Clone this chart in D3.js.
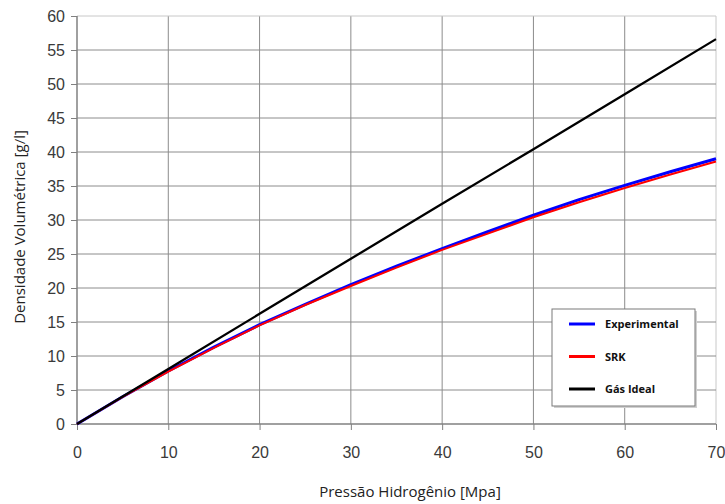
<!DOCTYPE html>
<html>
<head>
<meta charset="utf-8">
<script src="https://cdn.jsdelivr.net/npm/d3@7"></script>
<style>
  body { margin: 0; background: #fff; }
  svg { display: block; }
</style>
</head>
<body>
<div id="chart"></div>
<script>
// pressure (MPa) and density (g/l)
const pressure = [0, 5, 10, 15, 20, 25, 30, 35, 40, 45, 50, 55, 60, 65, 70];
const experimental = [0, 4.0, 7.8, 11.3, 14.6, 17.6, 20.5, 23.2, 25.8, 28.3, 30.7, 33.0, 35.1, 37.1, 39.0];
const srk = [0, 4.0, 7.7, 11.2, 14.5, 17.5, 20.3, 23.0, 25.6, 28.0, 30.4, 32.6, 34.7, 36.7, 38.6];
const idealP = [0, 10, 20, 30, 40, 50, 60, 70];
const ideal = [0, 8.1, 16.2, 24.3, 32.4, 40.4, 48.5, 56.6];

const xTicks = [0, 10, 20, 30, 40, 50, 60, 70];
const yTicks = [0, 5, 10, 15, 20, 25, 30, 35, 40, 45, 50, 55, 60];

const series = [
  {name: "Experimental", color: "#0000ff", width: 3, xs: pressure, ys: experimental},
  {name: "SRK", color: "#ff0000", width: 2, xs: pressure, ys: srk},
  {name: "Gás Ideal", color: "#000000", width: 2.3, xs: idealP, ys: ideal}
];

const W = 725, H = 504;
const margin = {top: 16, right: 9, bottom: 80, left: 77};

const svg = d3.select("#chart").append("svg")
  .attr("width", W).attr("height", H);

const x = d3.scaleLinear().domain([0, 70]).range([margin.left, W - margin.right]);
const y = d3.scaleLinear().domain([0, 60]).range([H - margin.bottom, margin.top]);

// grid
svg.append("g").selectAll("line.v")
  .data(xTicks.slice(1))
  .enter().append("line")
  .attr("x1", d => x(d)).attr("x2", d => x(d))
  .attr("y1", y(0)).attr("y2", y(60))
  .attr("stroke", d => d === 70 ? "#c8c8c8" : "#8c8c8c").attr("stroke-width", 1);

svg.append("g").selectAll("line.h")
  .data(yTicks.slice(1))
  .enter().append("line")
  .attr("x1", x(0)).attr("x2", x(70))
  .attr("y1", d => y(d)).attr("y2", d => y(d))
  .attr("stroke", d => d === 60 ? "#c8c8c8" : "#8c8c8c").attr("stroke-width", 1);

// axes
const xAxis = svg.append("g")
  .attr("transform", "translate(0," + y(0) + ")")
  .call(d3.axisBottom(x).tickValues(xTicks).tickSize(6).tickPadding(17).tickFormat(d3.format("d")));
const yAxis = svg.append("g")
  .attr("transform", "translate(" + x(0) + ",0)")
  .call(d3.axisLeft(y).tickValues(yTicks).tickSize(6).tickPadding(6).tickFormat(d3.format("d")));

[xAxis, yAxis].forEach(a => {
  a.select(".domain").attr("stroke", "#808080").attr("stroke-width", 1.5);
  a.selectAll(".tick line").attr("stroke", "#808080");
  a.selectAll(".tick text")
    .attr("fill", "#3a3a3a")
    .style("font-family", "Liberation Sans, Arial, sans-serif")
    .style("font-size", "16px");
});
xAxis.select(".domain").attr("d", "M" + x(0) + ",0H" + x(70));
yAxis.select(".domain").attr("d", "M0," + y(0) + "V" + y(60));

// lines
const line = d3.line().x(d => x(d[0])).y(d => y(d[1]));
svg.append("g").selectAll("path")
  .data(series)
  .enter().append("path")
  .attr("fill", "none")
  .attr("stroke", d => d.color)
  .attr("stroke-width", d => d.width)
  .attr("stroke-linejoin", "round")
  .attr("d", d => line(d.xs.map((v, i) => [v, d.ys[i]])));

// axis titles
svg.append("text")
  .attr("x", 410).attr("y", 497)
  .attr("text-anchor", "middle")
  .style("font-family", "Open Sans, sans-serif").style("font-size", "15px")
  .attr("fill", "#222")
  .text("Pressão Hidrogênio [Mpa]");

svg.append("text")
  .attr("transform", "translate(25," + ((y(0) + y(60)) / 2 + 7) + ") rotate(-90)")
  .attr("text-anchor", "middle")
  .style("font-family", "Open Sans, sans-serif").style("font-size", "15px")
  .attr("fill", "#222")
  .text("Densidade Volumétrica [g/l]");

// legend
const lg = svg.append("g").attr("transform", "translate(552,309)");
lg.append("rect").attr("x", 2).attr("y", 2).attr("width", 143).attr("height", 97).attr("fill", "#d0d0d0");
lg.append("rect").attr("width", 143).attr("height", 97)
  .attr("fill", "#fff").attr("stroke", "#7a7a7a").attr("stroke-width", 1);
const item = lg.selectAll("g.item")
  .data(series)
  .enter().append("g")
  .attr("transform", (d, i) => "translate(0," + (15 + i * 32.5) + ")");
item.append("line")
  .attr("x1", 17).attr("x2", 43)
  .attr("stroke", d => d.color).attr("stroke-width", 3);
item.append("text")
  .attr("x", 53).attr("y", 4)
  .style("font-family", "Open Sans, sans-serif").style("font-size", "11px").style("font-weight", "bold")
  .attr("fill", "#111")
  .text(d => d.name);
</script>
</body>
</html>
